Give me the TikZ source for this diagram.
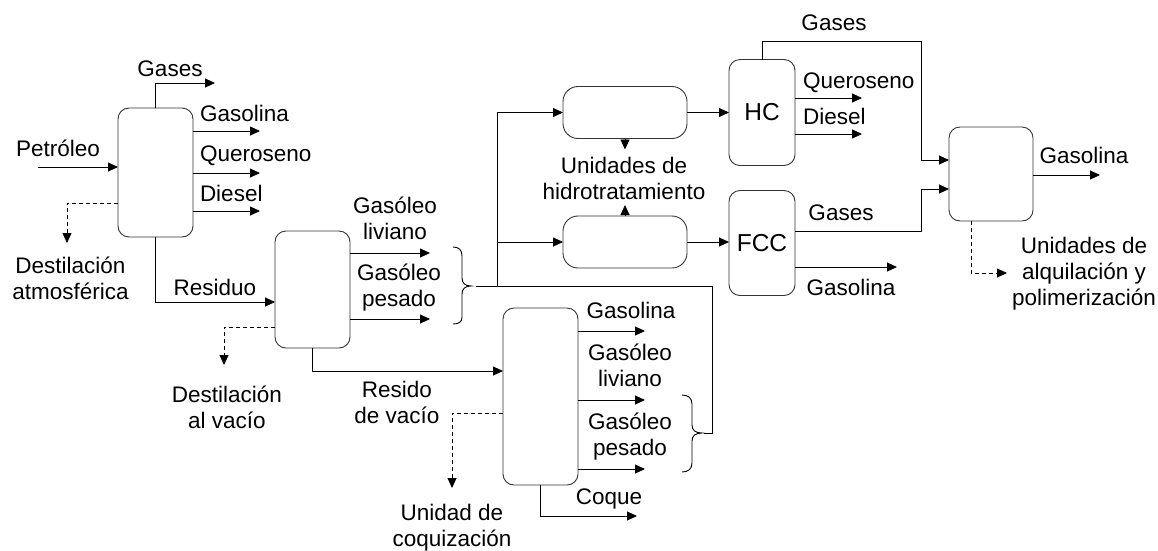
\documentclass[tikz,border=0pt]{standalone}
\usepackage{fontspec}
\setmainfont{Liberation Sans}
\usetikzlibrary{arrows.meta}
\begin{document}
\begin{tikzpicture}[x=1pt,y=-1pt,
  every node/.style={font=\fontsize{22.5}{26}\selectfont, inner sep=0pt, outer sep=0pt},
  unit/.style={draw=black!80, line width=0.9pt, rounded corners=11pt},
  htbox/.style={unit, rounded corners=15pt, minimum width=124pt, minimum height=52pt},
  big/.style={font=\fontsize{24.5}{28}\selectfont},
  flow/.style={line width=0.9pt, -{Triangle[length=10pt,width=9pt]}},
  plain/.style={line width=0.9pt},
  side/.style={line width=0.8pt, dash pattern=on 4pt off 3pt, -{Triangle[length=10pt,width=9pt]}},
  lbl/.style={anchor=base, align=center},
  lblw/.style={anchor=base west}
]
\useasboundingbox (0,0) rectangle (1158,550);

% process units
\node[unit, minimum width=75pt, minimum height=129pt] (atm) at (155.5,172.5) {};
\node[unit, minimum width=75pt, minimum height=117pt] (vac) at (312.5,289.5) {};
\node[unit, minimum width=75pt, minimum height=177pt] (cok) at (540.5,396.5) {};
\node[htbox] (ht1) at (625,112.5) {};
\node[htbox] (ht2) at (625,242) {};
\node[unit, big, minimum width=66pt, minimum height=106pt] (hc) at (762,112.5) {HC};
\node[unit, big, minimum width=66pt, minimum height=105pt] (fcc) at (762,243) {FCC};
\node[unit, minimum width=84pt, minimum height=94pt] (alk) at (991,174) {};

% atmospheric distillation
\coordinate (feed) at (38,167);
\draw[flow] (feed) -- (atm.west |- feed);
\draw[flow] (atm.north) |- (215,83);
\draw[flow] (atm.east |- 0,131) -- (260,131);
\draw[flow] (atm.east |- 0,173) -- (260,173);
\draw[flow] (atm.east |- 0,211) -- (260,211);
\draw[side] (atm.west |- 0,203) -| (67,243);
\draw[flow] (atm.south) |- (vac.west |- 0,302);

% vacuum distillation
\draw[flow] (vac.east |- 0,253) -- (430,253);
\draw[flow] (vac.east |- 0,319) -- (430,319);
\draw[side] (vac.west |- 0,327) -| (224,365);
\draw[flow] (vac.south) |- (cok.west |- 0,371);

% coking unit
\draw[flow] (cok.east |- 0,331) -- (645,331);
\draw[flow] (cok.east |- 0,400) -- (645,400);
\draw[flow] (cok.east |- 0,469) -- (645,469);
\draw[side] (cok.west |- 0,413) -| (452,488);
\draw[flow] (cok.south) |- (637,516);

% braces collecting the gas oils
\coordinate (brA) at (471,286);
\coordinate (brB) at (702,433);
\draw[plain] (453,247) .. controls (459,247) and (462,250) .. (462,256) -- (462,278)
  .. controls (462,283) and (465,286) .. (brA)
  .. controls (465,286) and (462,289) .. (462,294) -- (462,317)
  .. controls (462,322) and (459,324) .. (453,324);
\draw[plain] (682,395) .. controls (688,395) and (692,398) .. (692,404) -- (692,425)
  .. controls (692,430) and (695,433) .. (brB)
  .. controls (695,433) and (692,436) .. (692,441) -- (692,463)
  .. controls (692,469) and (688,472) .. (682,472);
\coordinate (split) at (497,286);
\draw[plain] ([xshift=5pt]brA) -- (712,286) -- (712,433) -- ([xshift=2pt]brB);
\draw[flow] (split) |- (ht1.west);
\draw[flow] (split |- ht2.west) -- (ht2.west);

% hydrotreating
\draw[flow] (ht1.south) -- ++(0,11);
\draw[flow] (ht2.north) -- ++(0,-11);
\draw[flow] (ht1.east) -- (hc.west);
\draw[flow] (ht2.east) -- (fcc.west |- ht2.east);

% hydrocracking and FCC
\draw[flow] (hc.north) |- (921,41) -- (921,160) -- (alk.west |- 0,160);
\draw[flow] (hc.east |- 0,98) -- (862,98);
\draw[flow] (hc.east |- 0,134) -- (862,134);
\draw[flow] (fcc.east |- 0,231) -| (921,189) -- (alk.west |- 0,189);
\draw[flow] (fcc.east |- 0,267) -- (897,267);

% alkylation / polymerization
\draw[flow] (alk.east |- 0,175) -- (1100,175);
\draw[side] (alk.south -| 971,0) |- (1007,273);

% labels (multi-line labels sit on the baseline of their last line)
\node[lbl] (t1) at (170,76) {Gases};
\node[lblw] (t2) at (200,121) {Gasolina};
\node[lblw] (t3) at (200,161) {Queroseno};
\node[lblw] (t4) at (200,201) {Diesel};
\node[lbl] (t5) at (58,156) {Petróleo};
\node[lbl] (t6) at (70.5,299) {Destilación\\atmosférica};
\node[lbl] (t7) at (215,295) {Residuo};
\node[lbl] (t8) at (395,239) {Gasóleo\\liviano};
\node[lbl] (t9) at (399,306) {Gasóleo\\pesado};
\node[lbl] (t10) at (227,428) {Destilación\\al vacío};
\node[lbl] (t11) at (397,423) {Resido\\de vacío};
\node[lbl] (t12) at (631,318) {Gasolina};
\node[lbl] (t13) at (630,386) {Gasóleo\\liviano};
\node[lbl] (t14) at (630,455) {Gasóleo\\pesado};
\node[lbl] (t15) at (609,504) {Coque};
\node[lbl] (t16) at (452,546) {Unidad de\\coquización};
\node[lbl] (t17) at (834,30) {Gases};
\node[lblw] (t18) at (803,88) {Queroseno};
\node[lblw] (t19) at (803,124) {Diesel};
\node[lbl] (t20) at (624,199) {Unidades de\\hidrotratamiento};
\node[lbl] (t21) at (841,220) {Gases};
\node[lbl] (t22) at (851,295) {Gasolina};
\node[lbl] (t23) at (1084,163) {Gasolina};
\node[lbl] (t24) at (1084,305) {Unidades de\\alquilación y\\polimerización};
\end{tikzpicture}
\end{document}
